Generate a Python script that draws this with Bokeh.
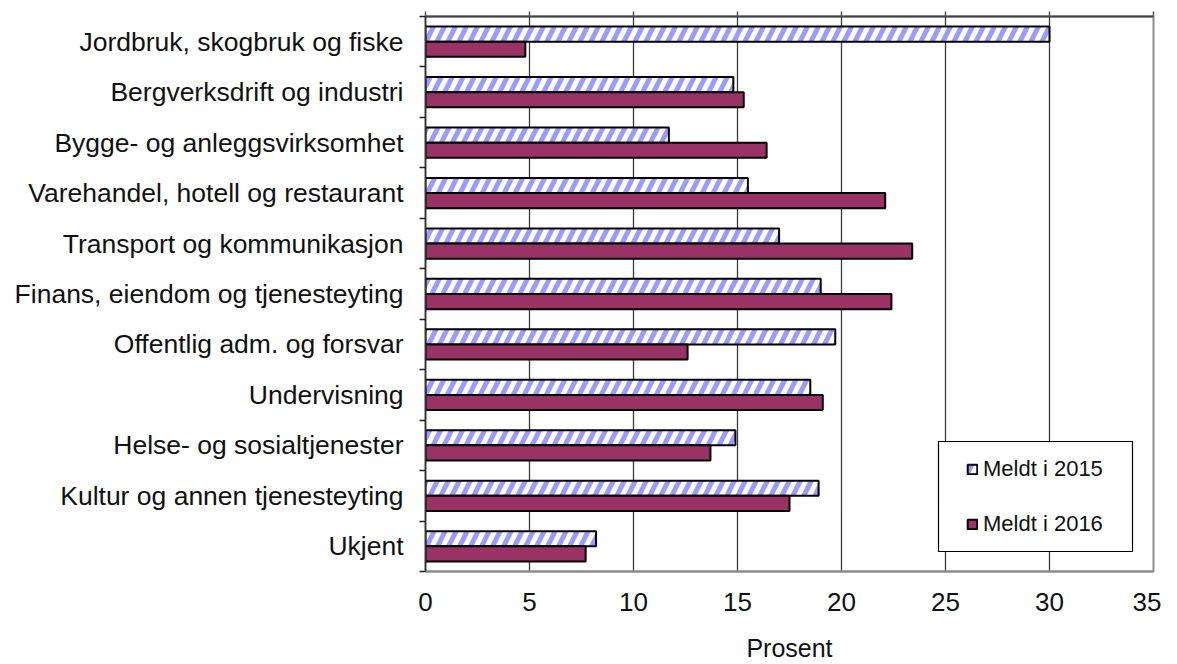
from bokeh.plotting import figure
from bokeh.models import (Range1d, FixedTicker, LinearAxis, Legend, LegendItem,
                          ColumnDataSource, BoxAnnotation)
from bokeh.transform import dodge
from bokeh.embed import file_html
from bokeh.resources import INLINE

categories = [
    "Jordbruk, skogbruk og fiske",
    "Bergverksdrift og industri",
    "Bygge- og anleggsvirksomhet",
    "Varehandel, hotell og restaurant",
    "Transport og kommunikasjon",
    "Finans, eiendom og tjenesteyting",
    "Offentlig adm. og forsvar",
    "Undervisning",
    "Helse- og sosialtjenester",
    "Kultur og annen tjenesteyting",
    "Ukjent",
]
meldt_2015 = [30.0, 14.8, 11.7, 15.5, 17.0, 19.0, 19.7, 18.5, 14.9, 18.9, 8.2]
meldt_2016 = [4.8, 15.3, 16.4, 22.1, 23.4, 22.4, 12.6, 19.1, 13.7, 17.5, 7.7]
series_labels = ["Meldt i 2015", "Meldt i 2016"]
x_ticks = [0, 5, 10, 15, 20, 25, 30, 35]
x_label = "Prosent"

FONT = "Liberation Sans"
n = len(categories)
pos = [n - i - 0.5 for i in range(n)]
bounds = list(range(n + 1))

src = ColumnDataSource(dict(y=pos, a=meldt_2015, b=meldt_2016, cat=categories))

p = figure(width=1161, height=664, output_backend="svg", toolbar_location=None,
           x_range=Range1d(0, 35), y_range=Range1d(0, n),
           min_border_left=425, min_border_right=8, min_border_top=16,
           min_border_bottom=90, y_axis_location=None, x_axis_location=None)
p.background_fill_color = "white"
p.border_fill_color = "white"
p.outline_line_color = "#8c8c8c"
p.outline_line_width = 2

# grid
p.ygrid.visible = False
p.xgrid.ticker = FixedTicker(ticks=x_ticks[1:-1])
p.xgrid.grid_line_color = "#3a3a3a"
p.xgrid.grid_line_width = 1.3

r15 = p.hbar(y=dodge("y", 0.15), right="a", left=0, height=0.3, source=src,
             fill_color="white", line_color="black", line_width=2,
             hatch_pattern="right_diagonal_line", hatch_color="#9a9aff",
             hatch_weight=5, hatch_scale=22)
r16 = p.hbar(y=dodge("y", -0.15), right="b", left=0, height=0.3, source=src,
             fill_color="#993366", line_color="black", line_width=2)

# left axis with category labels and boundary ticks
ly = LinearAxis(ticker=FixedTicker(ticks=pos, minor_ticks=bounds))
ly.major_label_overrides = {v: c for v, c in zip(pos, categories)}
ly.major_tick_out = 0
ly.major_tick_in = 0
ly.minor_tick_out = 6
ly.minor_tick_in = 0
ly.minor_tick_line_color = "#222222"
ly.minor_tick_line_width = 1.3
ly.axis_line_color = "#333333"
ly.axis_line_width = 1.5
ly.major_label_text_font = FONT
ly.major_label_text_font_size = "26.5px"
ly.major_label_text_color = "#111111"
ly.major_label_standoff = 16
p.add_layout(ly, "left")

# bottom axis
bx = LinearAxis(ticker=FixedTicker(ticks=x_ticks), axis_label=x_label)
bx.major_tick_out = 0
bx.major_tick_in = 0
bx.minor_tick_out = 0
bx.minor_tick_in = 0
bx.axis_line_color = "#8c8c8c"
bx.axis_line_width = 2
bx.major_label_text_font = FONT
bx.major_label_text_font_size = "26px"
bx.major_label_text_color = "#111111"
bx.major_label_standoff = 21
bx.axis_label_text_font = FONT
bx.axis_label_text_font_size = "25px"
bx.axis_label_text_font_style = "normal"
bx.axis_label_text_color = "#111111"
bx.axis_label_standoff = 20
p.add_layout(bx, "below")

# top axis: line with small outward ticks only (labels left empty)
tx = LinearAxis(ticker=FixedTicker(ticks=x_ticks))
tx.major_label_overrides = {t: "" for t in x_ticks}
tx.major_label_text_font_size = "1px"
tx.major_label_standoff = 0
tx.major_tick_out = 5
tx.major_tick_in = 0
tx.minor_tick_out = 0
tx.minor_tick_in = 0
tx.major_tick_line_color = "#555555"
tx.major_tick_line_width = 1.5
tx.axis_line_color = "#444444"
tx.axis_line_width = 2
p.add_layout(tx, "above")

# legend frame
box = BoxAnnotation(left=513, right=707, bottom=20, top=130,
                    left_units="screen", right_units="screen",
                    bottom_units="screen", top_units="screen",
                    fill_color="white", fill_alpha=1.0,
                    line_color="black", line_width=1.2, line_alpha=1.0)
p.add_layout(box)

legend = Legend(items=[LegendItem(label=series_labels[0], renderers=[r15]),
                       LegendItem(label=series_labels[1], renderers=[r16])],
                location=(541, 34))
legend.border_line_color = None
legend.background_fill_alpha = 0
legend.padding = 0
legend.spacing = 29
legend.glyph_width = 12
legend.glyph_height = 12
legend.label_height = 26
legend.label_standoff = 5
legend.margin = 0
legend.label_text_font = FONT
legend.label_text_font_size = "22px"
legend.label_text_color = "#111111"
p.add_layout(legend, "center")

open("out.html", "w").write(file_html(p, INLINE))
